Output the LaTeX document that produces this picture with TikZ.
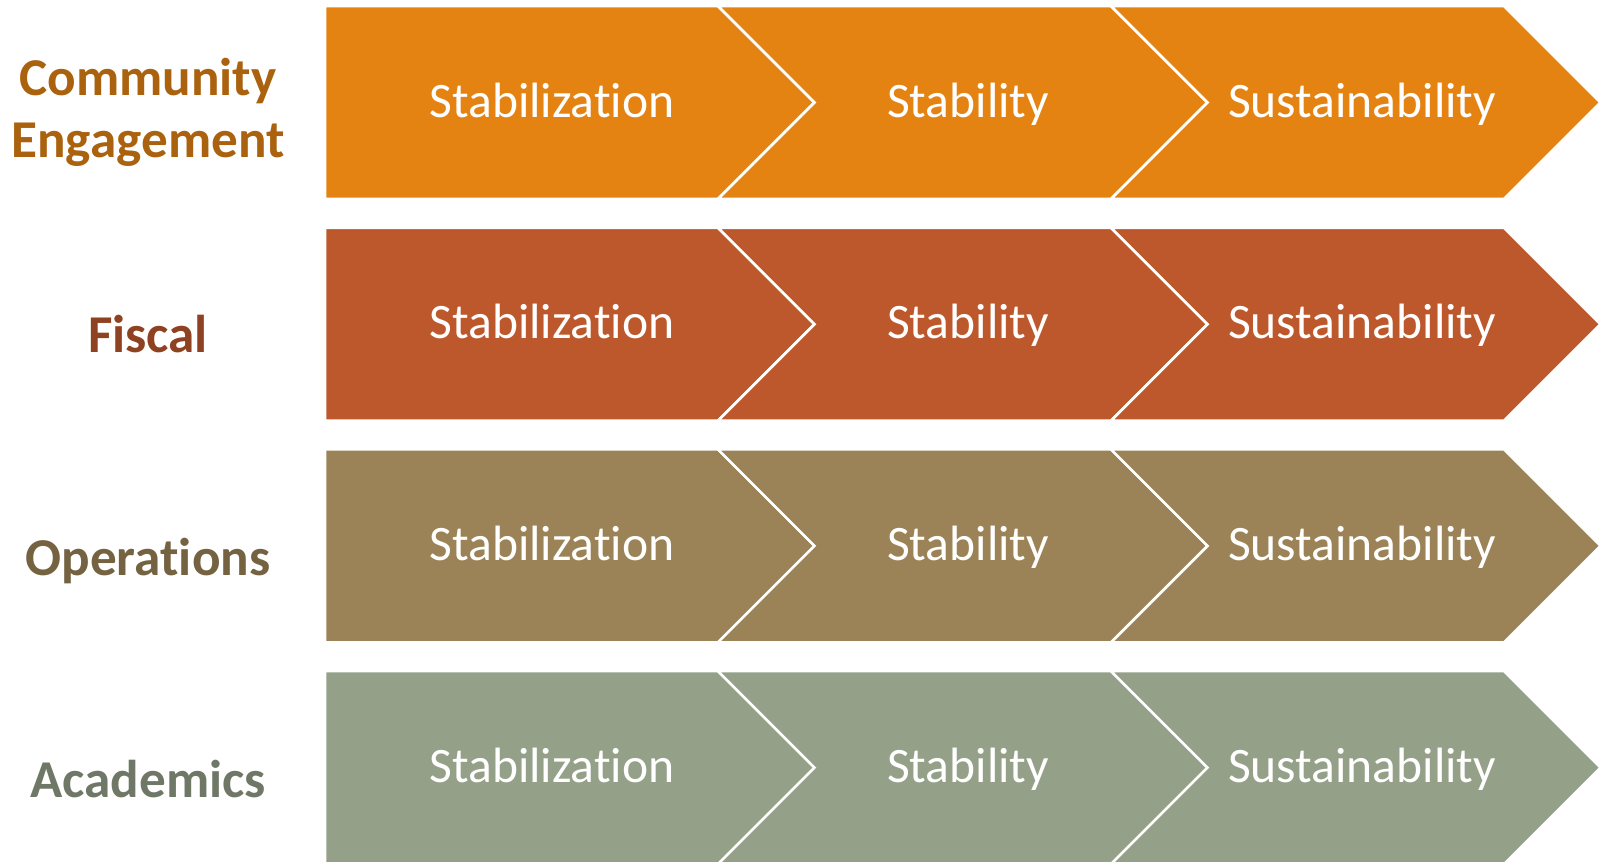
\documentclass[tikz,border=0pt]{standalone}
\usepackage{fontspec}
\setmainfont{Carlito}[Ligatures=NoCommon]
\usepackage{xcolor}

\definecolor{engage}{HTML}{E48312}
\definecolor{fiscal}{HTML}{BD582C}
\definecolor{ops}{HTML}{9B8357}
\definecolor{acad}{HTML}{94A088}
\definecolor{engageT}{HTML}{AB620E}
\definecolor{fiscalT}{HTML}{8E4221}
\definecolor{opsT}{HTML}{746241}
\definecolor{acadT}{HTML}{6F7866}

\begin{document}
\begin{tikzpicture}[x=0.5pt, y=-0.5pt]
    \tikzstyle{chev}=[draw=white, line width=1.3pt, line join=miter]
    \tikzstyle{stage}=[text=white, anchor=base, font=\fontsize{24.8}{30}\selectfont]
    \tikzstyle{area}=[anchor=base, align=center, font=\fontsize{26.6}{31}\selectfont\bfseries]

    \useasboundingbox (0,0) rectangle (1608,862);

    % one row of three chevrons per area
    \foreach \c [count=\i from 0] in {engage, fiscal, ops, acad} {
        \pgfmathsetmacro{\t}{6+221.7*\i}
        \pgfmathsetmacro{\m}{\t+96.5}
        \pgfmathsetmacro{\b}{\t+193}
        \pgfmathsetmacro{\base}{\t+111}
        \path[chev, fill=\c] (325,\t) -- (718,\t) -- (814.5,\m) -- (718,\b) -- (325,\b) -- cycle;
        \path[chev, fill=\c] (718,\t) -- (1111,\t) -- (1207.5,\m) -- (1111,\b) -- (718,\b) -- (814.5,\m) -- cycle;
        \path[chev, fill=\c] (1111,\t) -- (1504,\t) -- (1600.5,\m) -- (1504,\b) -- (1111,\b) -- (1207.5,\m) -- cycle;
        \node[stage] (stab\i)    at (552,\base)  {Stabilization};
        \node[stage] (stable\i)  at (968,\base)  {Stability};
        \node[stage] (sustain\i) at (1362,\base) {Sustainability};
    }

    % row labels (base anchor sits on the last line)
    \node[area, text=engageT] (comm)   at (148,157) {Community\\Engagement};
    \node[area, text=fiscalT] (fisc)   at (148,352) {Fiscal};
    \node[area, text=opsT]    (oper)   at (148,575) {Operations};
    \node[area, text=acadT]   (acadm)  at (148,797) {Academics};

\end{tikzpicture}
\end{document}
